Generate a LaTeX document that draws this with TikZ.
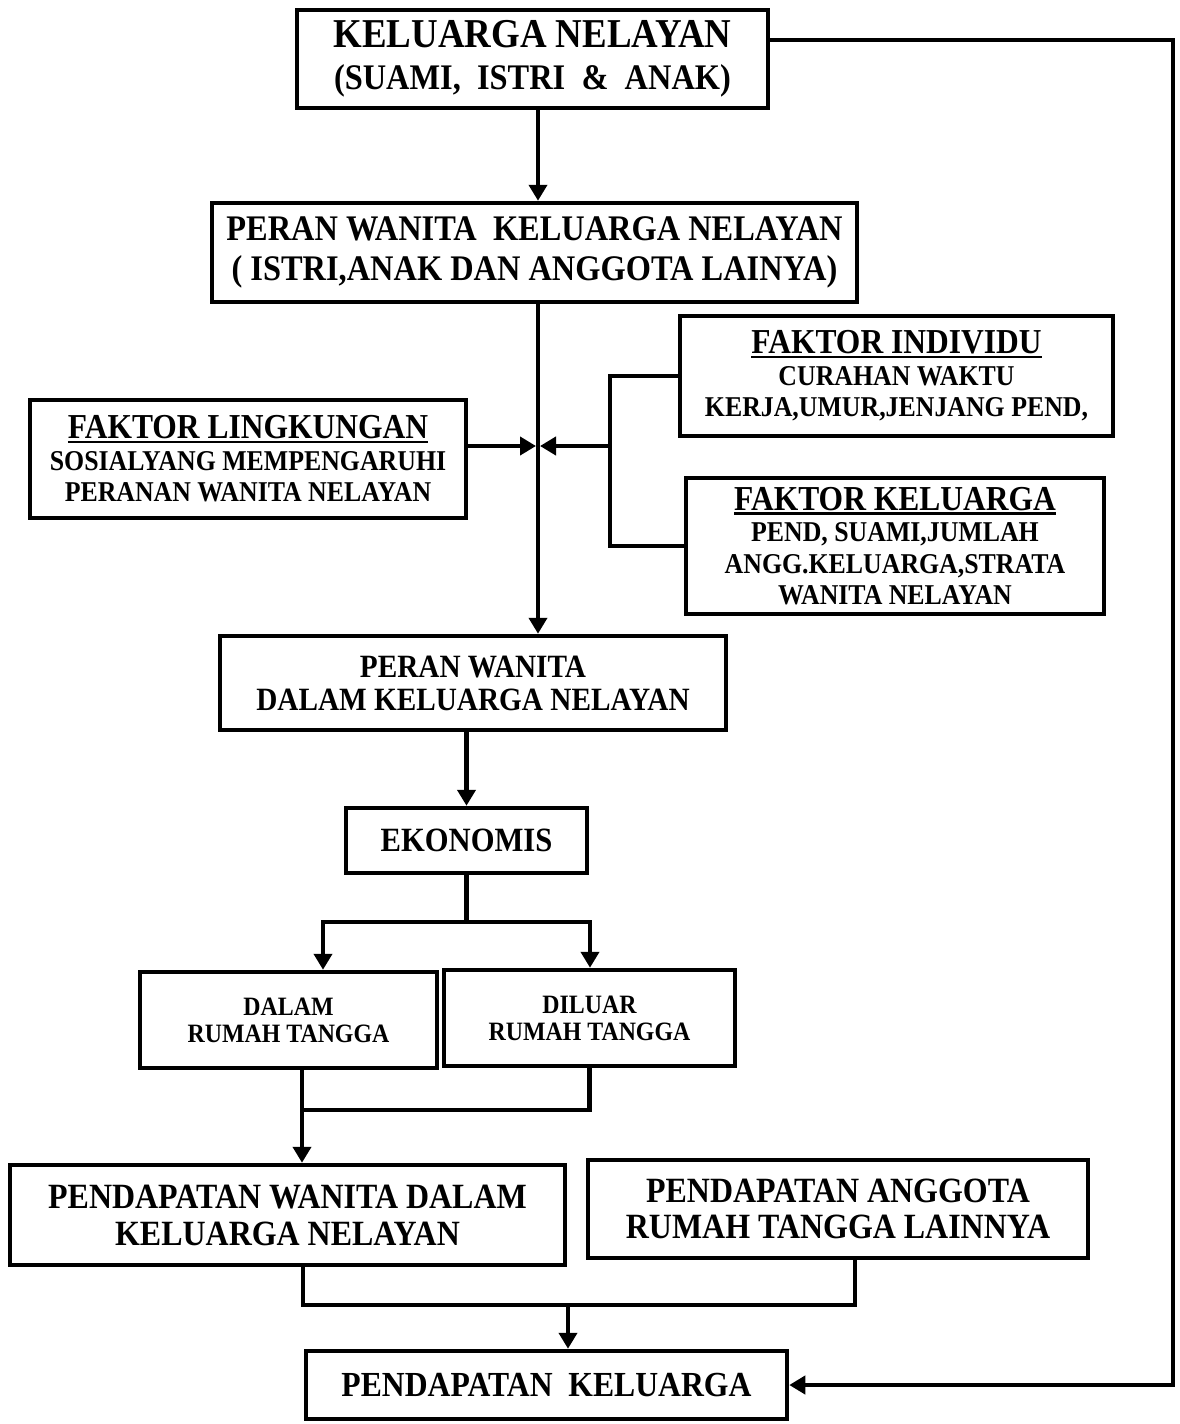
\documentclass[tikz,border=0pt]{standalone}
\usepackage{fontspec}
\setmainfont{Liberation Serif}[FakeStretch=0.9]
\usetikzlibrary{arrows.meta}

% underline for the factor headings
\newcommand{\hdr}[1]{\setbox0=\hbox{#1}\leavevmode\rlap{\rule[-4.5pt]{\wd0}{2.5pt}}\box0}

\begin{document}
\begin{tikzpicture}[x=1pt,y=1pt,yscale=-1,xscale=1,
  box/.style={draw,line width=4.5pt,align=center,inner sep=0pt},
  conn/.style={line width=4.2pt},
  arr/.style={conn,-{Triangle[length=16pt,width=18pt]}},
  ftop/.style={font=\fontsize{41}{42}\selectfont\bfseries},
  fbig/.style={font=\fontsize{36}{40}\selectfont\bfseries},
  fmid/.style={font=\fontsize{32.5}{33}\selectfont\bfseries},
  fbody/.style={font=\fontsize{28.7}{31.5}\selectfont\bfseries},
  fsmall/.style={font=\fontsize{26.5}{27}\selectfont\bfseries}]
\useasboundingbox (0,0) rectangle (1179,1424);

% Boxes
\node[box,ftop,minimum width=471pt,minimum height=98pt] (kel) at (532.5,59)
  {KELUARGA NELAYAN\\ {\fontsize{36}{36}\selectfont (SUAMI,~~ISTRI~~\&~~ANAK)}};
\node[box,fbig,minimum width=645pt,minimum height=99pt] (peran) at (534.5,252.5)
  {PERAN WANITA~~KELUARGA NELAYAN\\ (~ISTRI,ANAK DAN ANGGOTA LAINYA)};
\node[box,fbody,minimum width=436pt,minimum height=118pt] (lingk) at (248,459)
  {{\fontsize{35}{34}\selectfont\hdr{FAKTOR LINGKUNGAN}}\\ SOSIALYANG MEMPENGARUHI\\ PERANAN WANITA NELAYAN};
\node[box,fbody,minimum width=433pt,minimum height=120pt] (indiv) at (896.5,376)
  {{\fontsize{35}{34}\selectfont\hdr{FAKTOR INDIVIDU}}\\ CURAHAN WAKTU\\ KERJA,UMUR,JENJANG PEND,};
\node[box,fbody,minimum width=418pt,minimum height=136pt] (kelfak) at (895,546)
  {{\fontsize{35}{34}\selectfont\hdr{FAKTOR KELUARGA}}\\ PEND, SUAMI,JUMLAH\\ ANGG.KELUARGA,STRATA\\ WANITA NELAYAN};
\node[box,fmid,minimum width=506pt,minimum height=94pt] (pdalam) at (473,683)
  {PERAN WANITA\\ DALAM KELUARGA NELAYAN};
\node[box,fbig,font=\fontsize{34}{34}\selectfont\bfseries,minimum width=241pt,minimum height=65pt] (ekon) at (466.5,840.5)
  {EKONOMIS};
\node[box,fsmall,minimum width=297pt,minimum height=96pt] (dalam) at (288.5,1020)
  {DALAM\\ RUMAH TANGGA};
\node[box,fsmall,minimum width=291pt,minimum height=96pt] (diluar) at (589.5,1018)
  {DILUAR\\ RUMAH TANGGA};
\node[box,fbig,font=\fontsize{35.5}{37}\selectfont\bfseries,minimum width=555pt,minimum height=100pt] (pwan) at (287.5,1215)
  {PENDAPATAN WANITA DALAM\\ KELUARGA NELAYAN};
\node[box,fbig,font=\fontsize{35.5}{36}\selectfont\bfseries,minimum width=500pt,minimum height=98pt] (pang) at (838,1209)
  {PENDAPATAN ANGGOTA\\ RUMAH TANGGA LAINNYA};
\node[box,fbig,font=\fontsize{35.2}{36}\selectfont\bfseries,minimum width=481pt,minimum height=68pt] (pkel) at (546.5,1385)
  {PENDAPATAN~~KELUARGA};

% Junctions
\coordinate (j) at (538,446);
\coordinate (brk) at (610,446);
\coordinate (split) at (466.5,922);
\coordinate (splitL) at (323,922);
\coordinate (splitR) at (590,922);
\coordinate (mergeA) at (302,1110);
\coordinate (mL) at (303,1305);
\coordinate (mR) at (855,1305);
\coordinate (mergeB) at (568,1305);
\coordinate (fb) at (1173,40);

% Connectors
\draw[arr] (kel.south -| j) -- (peran.north -| j);
\draw[arr] (peran.south -| j) -- (pdalam.north -| j);
\draw[arr,shorten >=2pt] (lingk.east |- j) -- (j);
\draw[conn] (indiv.west) -| (brk) |- (kelfak.west);
\draw[arr,shorten >=2pt] (brk) -- (j);
\draw[arr] (pdalam.south -| ekon) -- (ekon.north);
\draw[conn] (ekon.south) -- (split);
\draw[arr] (split) -| (splitL |- dalam.north);
\draw[arr] (split) -| (splitR |- diluar.north);
\draw[conn] (dalam.south -| mergeA) -- (mergeA) -| (diluar.south);
\draw[arr] (mergeA) -- (pwan.north -| mergeA);
\draw[conn] (pwan.south -| mL) -- (mL) -- (mR) -- (pang.south -| mR);
\draw[arr] (mergeB) -- (pkel.north -| mergeB);
\draw[arr] (kel.east |- fb) -- (fb) |- (pkel.east);

\end{tikzpicture}
\end{document}
